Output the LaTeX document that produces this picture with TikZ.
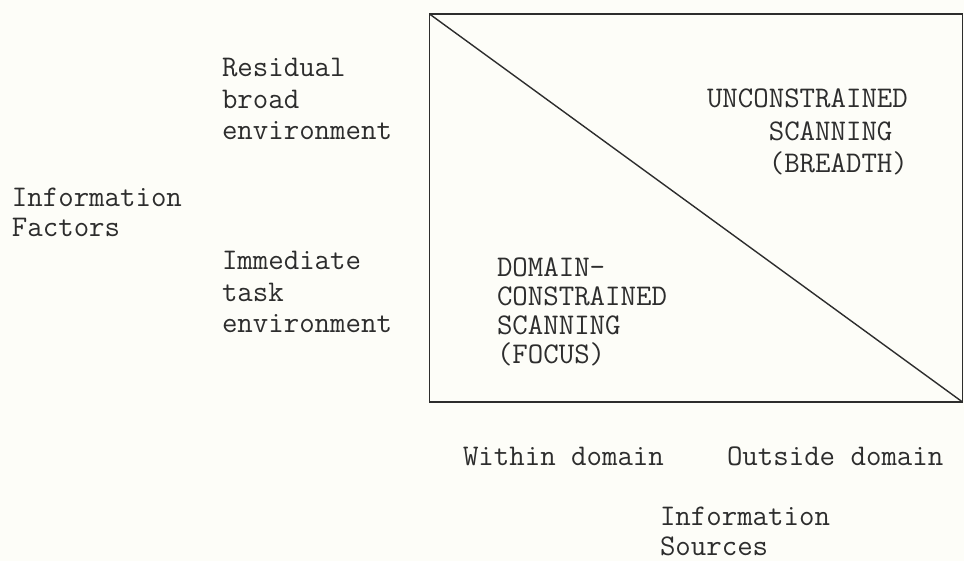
\documentclass[tikz,border=0pt]{standalone}
\definecolor{paper}{RGB}{253,253,248}
\definecolor{ink}{RGB}{45,45,45}
\tikzset{
  lbl/.style={anchor=base west, inner sep=0pt, outer sep=0pt, align=left, text=ink,
    font=\ttfamily\fontsize{30}{31.5}\selectfont},
  tight/.style={font=\ttfamily\fontsize{30}{29}\selectfont},
  loose/.style={font=\ttfamily\fontsize{30}{32.5}\selectfont},
  mid/.style={font=\ttfamily\fontsize{30}{30}\selectfont},
  frame/.style={draw=ink, line width=1.8pt, inner sep=0pt, outer sep=0pt}
}
\begin{document}
\begin{tikzpicture}[x=1pt,y=-1pt]
\fill[paper] (0,0) rectangle (964,561);
\useasboundingbox (0,0) rectangle (964,561);
\node[frame, anchor=north west, minimum width=533pt, minimum height=388pt] (box) at (429.5,14) {};
\draw[ink, line width=1.4pt] (box.north west) -- (box.south east);
% base anchor of a multi-line node lies on its last line
\node[lbl] (res) at (222,140) {Residual\\broad\\environment};
\node[lbl] (imm) at (222,333) {Immediate\\task\\environment};
\node[lbl, mid] (fac) at (12,237) {Information\\Factors};
\node[lbl, tight] (dom) at (497,363) {DOMAIN-\\CONSTRAINED\\SCANNING\\(FOCUS)};
\node[lbl, loose] (unc) at (707,173) {UNCONSTRAINED\\\phantom{XXXX}SCANNING\\\phantom{XXXX}(BREADTH)};
\node[lbl] (win) at (463,465) {Within domain};
\node[lbl] (out) at (727,465) {Outside domain};
\node[lbl, mid] (src) at (660,555) {Information\\Sources};
\end{tikzpicture}
\end{document}
